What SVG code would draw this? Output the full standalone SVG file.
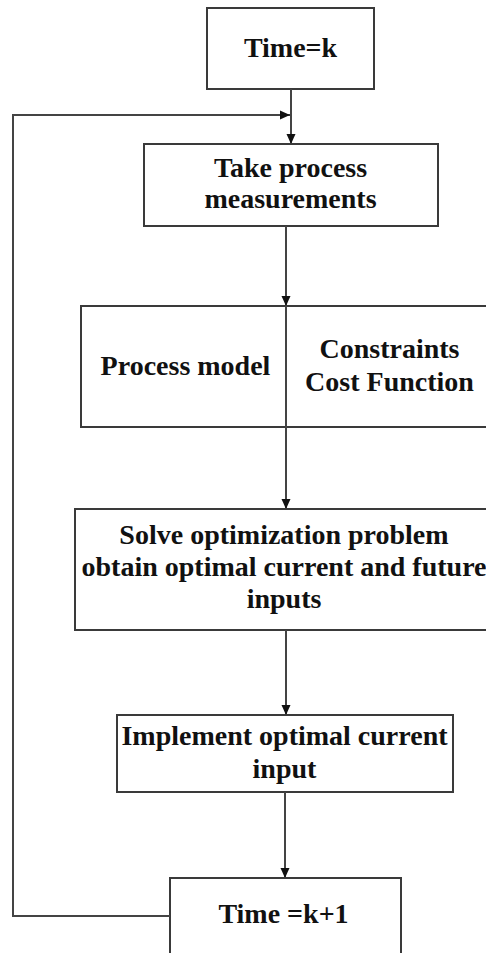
<svg xmlns="http://www.w3.org/2000/svg" width="486" height="953" viewBox="0 0 486 953">
  <defs>
    <marker id="arrow" markerUnits="userSpaceOnUse" markerWidth="10" markerHeight="10" viewBox="0 0 10 10" refX="10" refY="5" orient="auto">
      <path d="M0,0.5 L10,5 L0,9.5 Z" fill="#111"/>
    </marker>
    <style>
      .box { fill: #fff; stroke: #3a3a3a; stroke-width: 2; }
      .link { fill: none; stroke: #444; stroke-width: 2; }
      .label { font-family: "Liberation Serif", "Times New Roman", serif; font-weight: bold; font-size: 28px; fill: #111; text-anchor: middle; }
    </style>
  </defs>
  <rect width="486" height="953" fill="#fff"/>

  <g id="time-k">
    <rect class="box" x="207" y="8" width="167" height="81"/>
    <text class="label" x="290.5" y="57">Time=k</text>
  </g>

  <g id="measure">
    <rect class="box" x="144" y="144" width="294" height="82"/>
    <text class="label" x="290.5" y="177">Take process</text>
    <text class="label" x="290.5" y="208">measurements</text>
  </g>

  <g id="model">
    <rect class="box" x="81" y="306" width="420" height="121"/>
    <text class="label" x="185.5" y="375">Process model</text>
    <text class="label" x="389.5" y="358">Constraints</text>
    <text class="label" x="389.5" y="391">Cost Function</text>
  </g>

  <g id="optimize">
    <rect class="box" x="75" y="509" width="426" height="121"/>
    <text class="label" x="284" y="544">Solve optimization problem</text>
    <text class="label" x="284" y="576">obtain optimal current and future</text>
    <text class="label" x="284" y="608">inputs</text>
  </g>

  <g id="implement">
    <rect class="box" x="117" y="715" width="336" height="77"/>
    <text class="label" x="284.5" y="745">Implement optimal current</text>
    <text class="label" x="284.5" y="778">input</text>
  </g>

  <g id="time-k1">
    <rect class="box" x="170" y="878" width="231" height="90"/>
    <text class="label" x="283.5" y="923">Time =k+1</text>
  </g>

  <g id="connectors">
    <line class="link" x1="291" y1="89" x2="291" y2="144" marker-end="url(#arrow)"/>
    <path class="link" d="M170,916 H13 V115 H290" marker-end="url(#arrow)"/>
    <line class="link" x1="286" y1="226" x2="286" y2="306" marker-end="url(#arrow)"/>
    <line class="link" x1="286" y1="306" x2="286" y2="509" marker-end="url(#arrow)"/>
    <line class="link" x1="286" y1="630" x2="286" y2="715" marker-end="url(#arrow)"/>
    <line class="link" x1="285" y1="792" x2="285" y2="878" marker-end="url(#arrow)"/>
  </g>
</svg>
